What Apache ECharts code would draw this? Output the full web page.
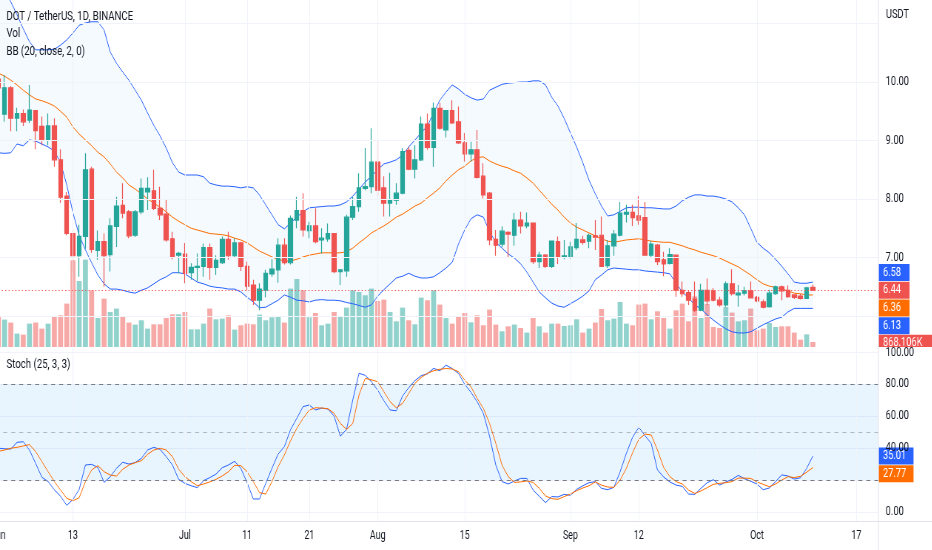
<!DOCTYPE html>
<html>
<head>
<meta charset="utf-8">
<title>DOT / TetherUS, 1D, BINANCE</title>
<script src="https://cdn.jsdelivr.net/npm/echarts@6/dist/echarts.min.js"></script>
<style>
html, body { margin: 0; padding: 0; background: #fff; overflow: hidden; width: 932px; height: 550px; }
#chart { height: 550px; transform-origin: 0 0; }
</style>
</head>
<body>
<div id="chart"></div>
<script>
'use strict';

// daily candles, 1 Jun 2022 .. 10 Oct 2022 (index 0 = Jun 1)
var openP = [
	10.05, 9.45, 9.90, 9.38, 9.46, 9.35, 9.51, 9.24, 9.01, 9.25,
	8.67, 8.05, 7.41, 7.03, 7.36, 8.51, 7.12, 7.27, 7.05, 7.53,
	7.89, 7.78, 7.38, 7.78, 8.12, 8.14, 7.84, 7.74, 7.32, 7.04,
	7.06, 6.74, 6.83, 6.85, 7.17, 6.83, 6.91, 7.31, 7.03, 7.25,
	6.85, 6.53, 6.27, 6.44, 6.72, 6.79, 7.21, 6.91, 7.64, 7.80,
	7.46, 7.54, 7.30, 7.32, 7.41, 6.76, 6.77, 7.69, 7.87, 8.18,
	8.21, 8.63, 8.19, 7.93, 7.98, 8.10, 8.83, 8.51, 8.67, 9.28,
	8.88, 9.55, 9.18, 9.51, 9.32, 8.96, 8.77, 8.84, 8.39, 8.10,
	7.31, 7.23, 7.43, 7.38, 7.64, 7.54, 7.59, 6.93, 7.04, 6.85,
	7.27, 7.00, 7.01, 7.17, 7.30, 7.28, 7.37, 7.38, 6.86, 7.20,
	7.38, 7.74, 7.77, 7.71, 7.68, 7.04, 7.21, 6.96, 6.90, 7.04,
	6.44, 6.40, 6.29, 6.10, 6.44, 6.43, 6.27, 6.19, 6.55, 6.36,
	6.39, 6.43, 6.32, 6.24, 6.16, 6.38, 6.50, 6.44, 6.36, 6.34,
	6.30, 6.49
];
var highP = [
	10.15, 10.12, 9.93, 9.56, 9.53, 9.95, 9.52, 9.41, 9.46, 9.38,
	8.85, 8.12, 7.47, 7.56, 8.78, 8.55, 7.46, 7.41, 7.67, 8.04,
	8.27, 7.81, 7.81, 8.35, 8.37, 8.50, 8.21, 7.99, 7.44, 7.10,
	7.25, 6.90, 7.07, 7.24, 7.24, 7.04, 7.36, 7.44, 7.33, 7.27,
	6.93, 6.62, 6.56, 6.79, 6.97, 7.33, 7.33, 7.72, 8.04, 8.10,
	7.61, 7.84, 7.50, 7.58, 7.42, 6.80, 7.73, 8.04, 8.44, 8.87,
	9.21, 9.01, 8.39, 8.45, 8.27, 8.87, 8.89, 8.92, 9.41, 9.46,
	9.65, 9.64, 9.52, 9.69, 9.58, 9.13, 8.98, 9.18, 8.61, 8.12,
	7.47, 7.53, 7.45, 7.76, 7.78, 7.77, 7.60, 7.10, 7.06, 7.29,
	7.36, 7.30, 7.27, 7.59, 7.37, 7.41, 7.64, 7.70, 7.30, 7.47,
	7.95, 7.90, 7.90, 8.05, 7.95, 7.28, 7.23, 7.10, 7.16, 7.05,
	6.59, 6.44, 6.59, 6.55, 6.64, 6.48, 6.33, 6.59, 6.80, 6.53,
	6.50, 6.59, 6.34, 6.28, 6.45, 6.52, 6.52, 6.52, 6.37, 6.38,
	6.50, 6.54
];
var lowP = [
	9.80, 9.32, 9.16, 9.16, 9.25, 9.30, 8.85, 8.92, 8.92, 8.55,
	7.93, 7.38, 6.75, 6.67, 7.15, 7.08, 6.96, 6.50, 6.76, 7.18,
	7.67, 7.33, 7.35, 7.74, 7.81, 7.81, 7.64, 7.27, 6.97, 6.73,
	6.56, 6.62, 6.59, 6.67, 6.62, 6.70, 6.89, 6.96, 6.99, 6.77,
	6.44, 6.19, 6.10, 6.32, 6.67, 6.57, 6.88, 6.88, 7.50, 7.36,
	7.33, 7.24, 7.07, 7.27, 6.73, 6.53, 6.67, 7.64, 7.78, 8.15,
	8.10, 8.04, 7.70, 7.70, 7.90, 8.08, 8.49, 8.35, 8.65, 8.84,
	8.55, 9.18, 9.05, 9.28, 8.94, 8.64, 8.64, 8.35, 8.01, 7.21,
	7.03, 7.18, 7.01, 7.20, 7.41, 7.50, 6.89, 6.82, 6.82, 6.82,
	6.89, 6.97, 6.98, 7.13, 7.22, 7.16, 7.13, 6.84, 6.82, 7.03,
	7.36, 7.60, 7.54, 7.56, 7.03, 7.01, 6.87, 6.68, 6.88, 6.33,
	6.33, 6.19, 6.07, 6.08, 6.19, 6.25, 6.16, 6.16, 6.35, 6.16,
	6.35, 6.30, 6.24, 6.13, 6.14, 6.36, 6.27, 6.31, 6.29, 6.28,
	6.29, 6.43
];
var closeP = [
	9.90, 9.90, 9.38, 9.46, 9.32, 9.52, 9.17, 9.01, 9.25, 8.67,
	8.03, 7.41, 7.03, 7.36, 8.50, 7.14, 7.27, 7.03, 7.54, 7.88,
	7.76, 7.37, 7.78, 8.18, 8.18, 7.84, 7.73, 7.30, 7.01, 7.07,
	6.73, 6.83, 6.85, 7.17, 6.83, 6.95, 7.31, 7.03, 7.25, 6.85,
	6.51, 6.27, 6.46, 6.73, 6.80, 7.21, 6.91, 7.67, 7.80, 7.47,
	7.54, 7.27, 7.33, 7.41, 6.76, 6.79, 7.69, 7.87, 8.19, 8.21,
	8.63, 8.15, 7.93, 7.99, 8.10, 8.81, 8.51, 8.67, 9.28, 8.88,
	9.55, 9.21, 9.51, 9.30, 8.96, 8.77, 8.84, 8.37, 8.07, 7.30,
	7.21, 7.45, 7.40, 7.64, 7.54, 7.59, 6.93, 7.04, 6.85, 7.28,
	7.00, 7.03, 7.18, 7.31, 7.26, 7.38, 7.35, 6.85, 7.20, 7.40,
	7.76, 7.77, 7.68, 7.64, 7.04, 7.23, 6.93, 6.89, 7.05, 6.44,
	6.38, 6.27, 6.10, 6.44, 6.26, 6.27, 6.19, 6.55, 6.38, 6.39,
	6.43, 6.31, 6.26, 6.15, 6.39, 6.50, 6.43, 6.33, 6.32, 6.30,
	6.48, 6.44
];
// volume, millions of DOT
var volumeM = [
	5.21, 4.76, 4.24, 2.33, 2.15, 4.06, 4.24, 3.19, 4.06, 5.33,
	5.50, 7.53, 15.05, 11.46, 15.17, 9.84, 5.03, 8.40, 6.08, 6.67,
	5.33, 4.24, 3.89, 4.64, 3.19, 3.94, 3.94, 5.03, 5.68, 5.68,
	6.08, 3.07, 3.07, 4.06, 6.67, 4.81, 4.93, 5.50, 3.02, 3.77,
	4.06, 3.94, 5.62, 4.64, 5.16, 5.28, 4.24, 10.14, 11.80, 9.84,
	5.16, 5.90, 3.77, 4.06, 6.08, 5.33, 6.84, 9.84, 9.55, 8.98,
	10.14, 7.99, 8.23, 6.08, 4.46, 6.84, 4.64, 3.94, 8.58, 8.11,
	9.84, 7.36, 5.03, 4.06, 5.21, 5.90, 4.29, 5.50, 3.77, 6.49,
	3.89, 2.73, 3.59, 3.89, 3.30, 2.50, 5.03, 3.59, 2.50, 4.06,
	4.06, 3.65, 3.77, 4.81, 2.50, 3.19, 4.24, 6.60, 4.64, 4.93,
	7.81, 4.06, 3.77, 7.36, 7.53, 4.81, 6.20, 5.03, 3.19, 6.37,
	7.53, 4.46, 8.80, 5.03, 7.46, 3.47, 3.30, 6.94, 5.97, 4.46,
	4.64, 6.67, 2.90, 3.19, 4.17, 3.47, 3.59, 3.59, 2.50, 1.28,
	2.20, 0.868106
];
// Bollinger Bands (20, close, 2)
var bbUpper = [
	11.83, 11.61, 11.37, 11.15, 10.91, 10.69, 10.55, 10.55, 10.55, 10.56,
	10.63, 10.72, 10.84, 10.97, 11.01, 11.03, 11.03, 10.89, 10.51, 10.32,
	10.17, 10.03, 9.86, 9.69, 9.47, 9.26, 9.08, 8.87, 8.62, 8.46,
	8.41, 8.41, 8.41, 8.38, 8.27, 8.24, 8.22, 8.22, 8.21, 8.19,
	8.21, 8.19, 8.07, 7.90, 7.73, 7.56, 7.49, 7.59, 7.69, 7.78,
	7.85, 7.86, 7.87, 7.88, 7.88, 7.90, 7.95, 8.05, 8.17, 8.29,
	8.39, 8.50, 8.60, 8.63, 8.67, 8.75, 8.89, 9.01, 9.13, 9.25,
	9.47, 9.69, 9.83, 9.95, 9.88, 9.79, 9.73, 9.69, 9.71, 9.86,
	9.91, 9.96, 9.98, 9.99, 10.00, 10.00, 10.02, 10.02, 9.95, 9.74,
	9.59, 9.38, 9.13, 8.89, 8.62, 8.32, 8.09, 7.88, 7.71, 7.73,
	7.79, 7.85, 7.86, 7.86, 7.85, 7.85, 7.84, 7.83, 7.83, 7.88,
	7.97, 8.03, 8.07, 8.07, 8.05, 8.05, 8.03, 8.00, 7.95, 7.85,
	7.73, 7.50, 7.26, 7.16, 7.08, 6.97, 6.85, 6.72, 6.58, 6.56,
	6.56, 6.58
];
var bbBasis = [
	10.15, 10.10, 10.03, 9.95, 9.86, 9.78, 9.71, 9.68, 9.64, 9.59,
	9.50, 9.40, 9.23, 9.11, 9.01, 8.91, 8.80, 8.72, 8.60, 8.46,
	8.36, 8.24, 8.17, 8.09, 8.00, 7.93, 7.86, 7.78, 7.69, 7.62,
	7.56, 7.50, 7.47, 7.44, 7.41, 7.40, 7.39, 7.37, 7.33, 7.30,
	7.25, 7.18, 7.11, 7.06, 7.01, 6.97, 6.94, 6.94, 6.97, 7.01,
	7.04, 7.06, 7.08, 7.08, 7.08, 7.08, 7.10, 7.16, 7.25, 7.33,
	7.42, 7.48, 7.54, 7.61, 7.69, 7.74, 7.81, 7.88, 7.93, 8.02,
	8.10, 8.19, 8.31, 8.41, 8.50, 8.56, 8.65, 8.71, 8.72, 8.65,
	8.60, 8.56, 8.53, 8.48, 8.44, 8.36, 8.27, 8.15, 8.03, 7.91,
	7.81, 7.69, 7.59, 7.52, 7.47, 7.42, 7.37, 7.32, 7.28, 7.26,
	7.28, 7.30, 7.31, 7.32, 7.30, 7.28, 7.27, 7.26, 7.26, 7.23,
	7.20, 7.16, 7.13, 7.09, 7.06, 7.03, 6.99, 6.94, 6.89, 6.84,
	6.77, 6.70, 6.62, 6.55, 6.51, 6.49, 6.46, 6.43, 6.39, 6.38,
	6.36, 6.36
];
var bbLower = [
	8.79, 8.78, 8.79, 8.94, 8.91, 9.01, 8.99, 8.94, 8.89, 8.82,
	8.62, 8.24, 7.76, 7.38, 7.13, 6.91, 6.70, 6.55, 6.46, 6.46,
	6.44, 6.41, 6.39, 6.44, 6.48, 6.55, 6.62, 6.67, 6.74, 6.74,
	6.72, 6.65, 6.58, 6.55, 6.51, 6.49, 6.48, 6.46, 6.46, 6.41,
	6.32, 6.24, 6.14, 6.15, 6.21, 6.27, 6.36, 6.32, 6.27, 6.26,
	6.24, 6.27, 6.28, 6.27, 6.27, 6.26, 6.23, 6.21, 6.18, 6.15,
	6.19, 6.34, 6.45, 6.55, 6.65, 6.68, 6.73, 6.68, 6.65, 6.65,
	6.67, 6.74, 6.82, 6.92, 7.23, 7.47, 7.66, 7.73, 7.69, 7.44,
	7.26, 7.16, 7.06, 6.99, 6.89, 6.75, 6.58, 6.41, 6.31, 6.22,
	6.17, 6.15, 6.21, 6.27, 6.34, 6.43, 6.62, 6.70, 6.79, 6.82,
	6.81, 6.80, 6.79, 6.79, 6.77, 6.76, 6.75, 6.74, 6.72, 6.56,
	6.41, 6.31, 6.19, 6.12, 6.02, 5.93, 5.85, 5.78, 5.73, 5.71,
	5.71, 5.73, 5.79, 5.85, 5.90, 5.95, 5.98, 6.07, 6.13, 6.13,
	6.13, 6.13
];
// Stochastic (25, 3, 3)
var stochK = [
	39.9, 39.6, 39.4, 43.6, 44.0, 38.8, 30.4, 21.7, 19.0, 13.9,
	9.8, 4.1, 7.9, 14.1, 29.4, 29.8, 27.9, 18.5, 22.1, 27.3,
	31.1, 30.0, 30.9, 33.6, 38.8, 40.5, 39.2, 34.6, 29.4, 20.4,
	17.9, 16.4, 15.2, 19.6, 21.5, 23.7, 27.7, 29.4, 31.7, 27.3,
	18.3, 8.1, 8.1, 17.9, 27.3, 36.3, 40.9, 51.7, 58.7, 66.0,
	67.0, 63.9, 65.1, 64.5, 60.1, 47.5, 51.7, 70.2, 86.9, 85.6,
	81.6, 76.4, 69.7, 63.9, 63.4, 72.6, 77.9, 82.3, 85.4, 86.6,
	90.0, 88.5, 92.0, 89.8, 86.9, 80.0, 75.0, 69.1, 61.8, 47.5,
	29.4, 19.0, 17.5, 19.4, 21.0, 21.0, 13.7, 9.8, 5.8, 9.6,
	9.4, 11.0, 10.4, 14.1, 16.4, 18.3, 19.0, 14.8, 13.9, 15.4,
	25.2, 36.7, 46.8, 53.0, 47.8, 43.0, 26.3, 21.9, 18.8, 16.8,
	16.0, 11.2, 11.0, 14.8, 18.3, 20.2, 16.8, 18.8, 20.4, 22.9,
	20.8, 19.2, 17.5, 13.9, 15.0, 19.0, 23.2, 22.5, 20.6, 21.4,
	27.3, 35.01
];
var stochD = [
	38.0, 38.8, 39.9, 40.5, 41.3, 42.2, 37.8, 31.5, 25.2, 19.0,
	13.7, 8.5, 7.0, 8.9, 19.0, 26.3, 29.0, 25.2, 23.1, 22.5,
	26.7, 29.4, 30.9, 32.1, 36.1, 38.8, 39.9, 38.8, 34.6, 26.7,
	22.1, 19.0, 16.4, 17.5, 18.8, 20.4, 22.5, 25.2, 29.2, 29.0,
	25.2, 19.0, 12.1, 11.2, 19.0, 28.4, 35.7, 44.7, 52.4, 58.6,
	63.8, 65.3, 65.1, 64.7, 61.8, 55.5, 51.7, 55.5, 73.3, 83.7,
	82.8, 81.6, 75.4, 69.1, 65.3, 68.0, 74.3, 80.6, 84.3, 86.9,
	88.5, 89.4, 89.9, 89.6, 87.9, 82.7, 78.5, 71.2, 64.9, 55.5,
	43.0, 29.4, 22.1, 18.5, 18.8, 19.4, 18.5, 14.8, 10.0, 8.3,
	7.9, 9.6, 11.2, 13.3, 15.0, 16.4, 18.8, 16.8, 15.6, 15.4,
	20.0, 27.3, 37.1, 45.5, 48.8, 48.2, 38.8, 27.9, 22.1, 19.0,
	17.5, 13.7, 11.6, 13.1, 15.2, 17.3, 17.9, 18.3, 19.0, 21.2,
	21.2, 21.0, 18.8, 17.3, 15.8, 17.5, 20.0, 22.1, 21.5, 22.3,
	24.9, 27.77
];

// time scale labels, keyed by day index
var xTickLabels = { 0: 'Jun', 12: '13', 30: 'Jul', 40: '11', 50: '21', 61: 'Aug', 75: '15', 92: 'Sep', 103: '12', 122: 'Oct', 138: '17' };
var priceGridLines = [6, 7, 8, 9, 10, 11];
var priceLabels = [7, 8, 9, 10];
var stochLevels = [80, 50, 20];

var FONT = 'Roboto, "Noto Sans", sans-serif';
var UP = '#26a69a', DOWN = '#ef5350', BLUE = '#2962ff', ORANGE = '#ff6d00';
var GRID_LINE = '#f0f3fa', BORDER = '#e0e3eb', TEXT = '#131722';
var DAYS_SHOWN = 142;  // Jun 1 .. Oct 20

// the chart is laid out wide and squeezed horizontally, like the original screenshot
var SX = 0.74;
function X(px) { return px / SX; }
var el = document.getElementById('chart');
el.style.width = X(932) + 'px';
el.style.transform = 'scaleX(' + SX + ')';

var days = [];
var t0 = Date.UTC(2022, 5, 1);
for (var k = 0; k < DAYS_SHOWN; k++) {
	days.push(new Date(t0 + k * 86400000).toISOString().slice(0, 10));
}
var last = closeP.length - 1;

var candles = openP.map(function (o, i) {
	return [o, closeP[i], lowP[i], highP[i]];
});
var volumeBars = volumeM.map(function (v, i) {
	return {
		value: v,
		itemStyle: { color: closeP[i] >= openP[i] ? 'rgba(38,166,154,0.5)' : 'rgba(239,83,80,0.5)' }
	};
});
var bbWidth = bbUpper.map(function (u, i) { return +(u - bbLower[i]).toFixed(4); });

function grid(top, height) {
	return { left: X(-4.75), right: X(53.5), top: top, height: height, outerBoundsMode: 'none' };
}
function catAxis(gridIndex, show) {
	return {
		type: 'category', gridIndex: gridIndex, data: days, boundaryGap: true,
		axisLine: { show: show, lineStyle: { color: BORDER } },
		axisTick: { show: false },
		splitLine: { show: false },
		axisLabel: show ? {
			interval: function (idx) { return xTickLabels.hasOwnProperty(idx); },
			formatter: function (val, idx) { return xTickLabels[idx] || ''; },
			color: TEXT, fontSize: 12, fontFamily: FONT, margin: 9, hideOverlap: false
		} : { show: false }
	};
}
function thinLine(color) {
	return { type: 'line', showSymbol: false, smooth: false, silent: true, lineStyle: { color: color, width: 1 } };
}
function rightAxis(gridIndex, min, max, interval, formatter, split) {
	return {
		type: 'value', gridIndex: gridIndex, position: 'right', min: min, max: max, interval: interval,
		axisLine: { show: false }, axisTick: { show: false },
		splitLine: { show: split, lineStyle: { color: GRID_LINE } },
		axisLabel: { margin: X(7.5), color: TEXT, fontSize: 12.5, fontFamily: FONT, formatter: formatter }
	};
}

var chart = echarts.init(el);

var option = {
	animation: false,
	backgroundColor: '#ffffff',
	textStyle: { fontFamily: FONT },
	grid: [
		grid(0, 521),          // background: time scale + vertical grid lines
		grid(-35, 409.5),      // price 5 .. 12
		grid(247, 100),        // volume
		grid(352.4, 159.5)     // stochastic 0 .. 100
	],
	xAxis: [catAxis(0, true), catAxis(1, false), catAxis(2, false), catAxis(3, false)],
	yAxis: [
		{ type: 'value', gridIndex: 0, min: 0, max: 1, show: false },
		rightAxis(1, 5, 12, 1, function (v) { return priceLabels.indexOf(v) >= 0 ? v.toFixed(2) : ''; }, false),
		{ type: 'value', gridIndex: 2, min: 0, max: 17.36, show: false },
		rightAxis(3, 0, 100, 20, function (v) { return v === 20 ? '' : v.toFixed(2); }, true)
	],
	series: [
		{
			name: 'timeGrid', type: 'line', xAxisIndex: 0, yAxisIndex: 0, data: [], silent: true, z: 0,
			markLine: {
				silent: true, symbol: ['none', 'none'], label: { show: false },
				lineStyle: { color: GRID_LINE, type: 'solid', width: 1 },
				data: Object.keys(xTickLabels).map(function (i) { return { xAxis: days[+i] }; })
			}
		},
		{
			name: 'priceGrid', type: 'line', xAxisIndex: 1, yAxisIndex: 1, data: [], silent: true, z: 0,
			markLine: {
				silent: true, symbol: ['none', 'none'], label: { show: false },
				lineStyle: { color: GRID_LINE, type: 'solid', width: 1 },
				data: priceGridLines.map(function (v) { return { yAxis: v }; })
			}
		},
		{
			name: 'Vol', type: 'bar', xAxisIndex: 2, yAxisIndex: 2, data: volumeBars,
			barWidth: '80%', silent: true, z: 1
		},
		Object.assign(thinLine('transparent'), {
			name: 'bbBase', xAxisIndex: 1, yAxisIndex: 1, data: bbLower, stack: 'bb', z: 2,
			lineStyle: { opacity: 0 }
		}),
		Object.assign(thinLine('transparent'), {
			name: 'bbFill', xAxisIndex: 1, yAxisIndex: 1, data: bbWidth, stack: 'bb', z: 2,
			lineStyle: { opacity: 0 }, areaStyle: { color: 'rgba(33,150,243,0.05)', opacity: 1 }
		}),
		Object.assign(thinLine(ORANGE), { name: 'Basis', xAxisIndex: 1, yAxisIndex: 1, data: bbBasis, z: 3 }),
		Object.assign(thinLine(BLUE), { name: 'Upper', xAxisIndex: 1, yAxisIndex: 1, data: bbUpper, z: 3 }),
		Object.assign(thinLine(BLUE), { name: 'Lower', xAxisIndex: 1, yAxisIndex: 1, data: bbLower, z: 3 }),
		{
			name: 'DOTUSDT', type: 'candlestick', xAxisIndex: 1, yAxisIndex: 1, data: candles,
			barWidth: '72%', silent: true, z: 4,
			itemStyle: { color: UP, color0: DOWN, borderColor: UP, borderColor0: DOWN, borderWidth: 1.2 },
			markLine: {
				silent: true, symbol: ['none', 'none'], label: { show: false },
				lineStyle: { color: DOWN, type: [1.5, 3], width: 1 },
				data: [{ yAxis: closeP[last] }]
			}
		},
		Object.assign(thinLine(BLUE), {
			name: '%K', xAxisIndex: 3, yAxisIndex: 3, data: stochK, z: 3,
			markArea: {
				silent: true, itemStyle: { color: 'rgba(33,150,243,0.1)' },
				data: [[{ yAxis: stochLevels[2] }, { yAxis: stochLevels[0] }]]
			},
			markLine: {
				silent: true, symbol: ['none', 'none'], label: { show: false },
				lineStyle: { color: '#787b86', type: [5.4, 5.4], width: 1 },
				data: stochLevels.map(function (v) {
					return v === 50 ? { yAxis: v, lineStyle: { color: 'rgba(120,123,134,0.5)' } } : { yAxis: v };
				})
			}
		}),
		Object.assign(thinLine(ORANGE), { name: '%D', xAxisIndex: 3, yAxisIndex: 3, data: stochD, z: 3 })
	]
};
chart.setOption(option);

// legend texts, borders and the value tags on the price scale
function text(x, y, str, size) {
	return { type: 'text', x: X(x), y: y, silent: true, z: 50,
		style: { text: str, fill: TEXT, fontSize: size, fontFamily: FONT, verticalAlign: 'middle' } };
}
function tag(t) {
	var top = t.y - 8.5, bottom = Math.min(t.y + 8.5, t.limit || 9999);
	return { type: 'group', z: 60, silent: true, children: [
		{ type: 'rect', shape: { x: X(878.5), y: top, width: X(t.w), height: bottom - top }, style: { fill: t.color } },
		{ type: 'text', x: X(883), y: t.y, style: { text: t.label, fill: '#ffffff', fontSize: 12.5, fontFamily: FONT, verticalAlign: 'middle' } }
	] };
}
// push tags apart like the price scale does: the main tag stays, the others move away from it
function spread(items, gap) {
	items.sort(function (a, b) { return a.y - b.y; });
	var mainIdx = items.findIndex(function (t) { return t.main; });
	if (mainIdx < 0) mainIdx = 0;
	for (var a = mainIdx - 1; a >= 0; a--) items[a].y = Math.min(items[a].y, items[a + 1].y - gap);
	for (var b = mainIdx + 1; b < items.length; b++) items[b].y = Math.max(items[b].y, items[b - 1].y + gap);
	return items;
}
function py(axis, v) { return chart.convertToPixel({ yAxisIndex: axis }, v); }

var priceTags = spread([
	{ y: py(1, bbUpper[last]), label: bbUpper[last].toFixed(2), color: BLUE, w: 31 },
	{ y: py(1, closeP[last]), label: closeP[last].toFixed(2), color: DOWN, w: 31, main: true },
	{ y: py(1, bbBasis[last]), label: bbBasis[last].toFixed(2), color: ORANGE, w: 31 },
	{ y: py(1, bbLower[last]), label: bbLower[last].toFixed(2), color: BLUE, w: 31 },
	{ y: py(2, volumeM[last]), label: (volumeM[last] * 1000).toFixed(3) + 'K', color: DOWN, w: 54, limit: 347 }
], 17.7);
var stochTags = spread([
	{ y: py(3, stochK[last]), label: stochK[last].toFixed(2), color: BLUE, w: 35, main: true },
	{ y: py(3, stochD[last]), label: stochD[last].toFixed(2), color: ORANGE, w: 35 }
], 17.7);

var graphics = [
	text(6.5, 17, 'DOT / TetherUS, 1D, BINANCE', 13),
	text(6.5, 34, 'Vol', 13),
	text(6.5, 52, 'BB (20, close, 2, 0)', 13),
	text(6.5, 365, 'Stoch (25, 3, 3)', 13),
	text(886, 15, 'USDT', 12.5),
	{ type: 'line', silent: true, z: 40, shape: { x1: X(878.5), y1: 0, x2: X(878.5), y2: 550 }, style: { stroke: BORDER, lineWidth: 1 } },
	{ type: 'line', silent: true, z: 40, shape: { x1: X(878.5), y1: 521.5, x2: X(932), y2: 521.5 }, style: { stroke: BORDER, lineWidth: 1 } }
];
priceTags.concat(stochTags).forEach(function (t) { graphics.push(tag(t)); });
chart.setOption({ graphic: graphics });
</script>
</body>
</html>
